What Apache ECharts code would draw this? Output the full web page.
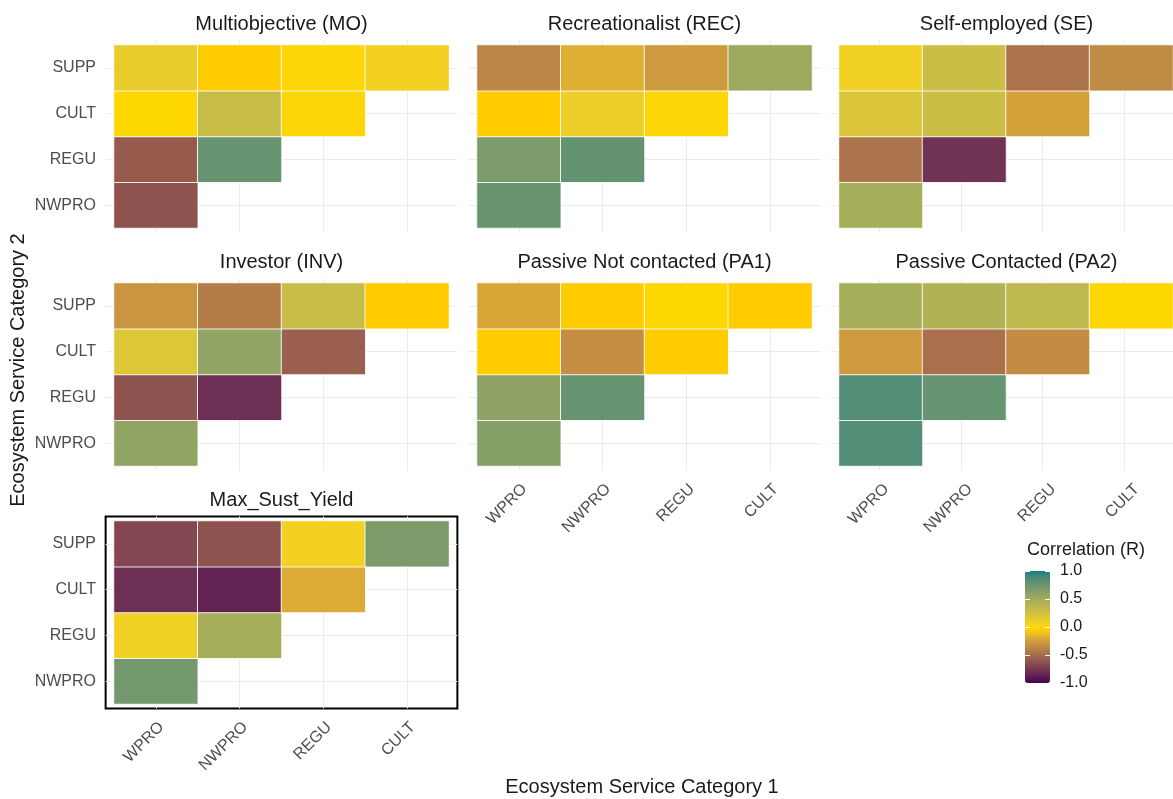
<!DOCTYPE html>
<html>
<head>
<meta charset="utf-8">
<title>Ecosystem service correlations</title>
<script src="https://cdn.jsdelivr.net/npm/echarts@6/dist/echarts.min.js"></script>
<style>
  html, body { margin: 0; padding: 0; background: #fff; }
  #chart { width: 1173px; height: 799px; }
</style>
</head>
<body>
<div id="chart"></div>
<script>
// categories
const cat1 = ['WPRO', 'NWPRO', 'REGU', 'CULT'];
const cat2 = ['NWPRO', 'REGU', 'CULT', 'SUPP']; // bottom to top
const panelTitles = [
  'Multiobjective (MO)', 'Recreationalist (REC)', 'Self-employed (SE)',
  'Investor (INV)', 'Passive Not contacted (PA1)', 'Passive Contacted (PA2)',
  'Max_Sust_Yield'
];
const legendTicks = [-1, -0.5, 0, 0.5, 1];

// correlation values, one row per cat2 entry (NWPRO, REGU, CULT, SUPP), columns follow cat1
const mo  = [[-0.62], [-0.58, 0.77], [0.0, 0.3, 0.01], [0.12, -0.06, 0.01, 0.07]];
const rec = [[0.76], [0.68, 0.78], [-0.06, 0.1, 0.01], [-0.38, -0.18, -0.28, 0.52]];
const se  = [[0.47], [-0.46, -0.78], [0.2, 0.28, -0.24], [0.08, 0.28, -0.47, -0.35]];
const inv = [[0.58], [-0.62, -0.8], [0.18, 0.58, -0.56], [-0.3, -0.42, 0.3, -0.06]];
const pa1 = [[0.64], [0.6, 0.77], [-0.06, -0.33, -0.06], [-0.22, -0.06, 0.0, -0.06]];
const pa2 = [[0.84], [0.84, 0.77], [-0.28, -0.48, -0.34], [0.47, 0.42, 0.35, 0.0]];
const msy = [[0.72], [0.08, 0.47], [-0.8, -0.86, -0.2], [-0.68, -0.62, 0.07, 0.68]];
const panels = [mo, rec, se, inv, pa1, pa2, msy];

// diverging colour scale (Lab interpolation), with a warmer gold just below zero
const lowCol = '#440154', nearZeroCol = '#FFCC00', midCol = '#FFD700', highCol = '#008080';

function hexToLab(hex) {
  const c = [1, 3, 5].map(i => parseInt(hex.slice(i, i + 2), 16) / 255)
    .map(v => v <= 0.04045 ? v / 12.92 : Math.pow((v + 0.055) / 1.055, 2.4));
  const f = t => t > 0.008856 ? Math.cbrt(t) : 7.787 * t + 16 / 116;
  const x = (0.4124 * c[0] + 0.3576 * c[1] + 0.1805 * c[2]) / 0.95047;
  const y = 0.2126 * c[0] + 0.7152 * c[1] + 0.0722 * c[2];
  const z = (0.0193 * c[0] + 0.1192 * c[1] + 0.9505 * c[2]) / 1.08883;
  return [116 * f(y) - 16, 500 * (f(x) - f(y)), 200 * (f(y) - f(z))];
}
function labToHex(lab) {
  const fy = (lab[0] + 16) / 116, fx = fy + lab[1] / 500, fz = fy - lab[2] / 200;
  const inv = t => t > 0.206893 ? t * t * t : (t - 16 / 116) / 7.787;
  const x = inv(fx) * 0.95047, y = inv(fy), z = inv(fz) * 1.08883;
  return '#' + [
    3.2406 * x - 1.5372 * y - 0.4986 * z,
    -0.9689 * x + 1.8758 * y + 0.0415 * z,
    0.0557 * x - 0.2040 * y + 1.0570 * z
  ].map(v => v <= 0.0031308 ? 12.92 * v : 1.055 * Math.pow(v, 1 / 2.4) - 0.055)
   .map(v => Math.round(Math.min(1, Math.max(0, v)) * 255).toString(16).padStart(2, '0'))
   .join('');
}
const mix = (a, b, t) => a.map((p, j) => p + (b[j] - p) * t);
const labLow = hexToLab(lowCol), labMid = hexToLab(midCol), labHigh = hexToLab(highCol);
const stops = [-1, -0.15, -0.06, 0, 1];
const labStops = [labLow, mix(labLow, labMid, 0.85), hexToLab(nearZeroCol), labMid, labHigh];
const ramp = [];
for (let i = 0; i <= 100; i++) {
  const v = -1 + i * 0.02;
  let k = 0;
  while (k < stops.length - 2 && v > stops[k + 1]) k++;
  const t = (v - stops[k]) / (stops[k + 1] - stops[k]);
  ramp.push(labToHex(mix(labStops[k], labStops[k + 1], t)));
}

// facet layout (tile area of each panel)
const tileLeft = [114, 477, 839];
const tileTop = [45, 283, 521];
const tileW = 335, tileH = 183;
const slots = [[0, 0], [0, 1], [0, 2], [1, 0], [1, 1], [1, 2], [2, 0]];
const font = '"Liberation Sans", Arial, sans-serif';

const grid = [], xAxis = [], yAxis = [], series = [], graphic = [];

slots.forEach(([r, c], i) => {
  const ux = tileW / 4, uy = tileH / 4;
  const boxed = i === 6;
  // panel background with grid lines at category centres
  grid.push({
    left: tileLeft[c] - 0.1 * ux, top: tileTop[r] - 0.1 * uy,
    width: 4.2 * ux, height: 4.2 * uy,
    show: boxed, borderColor: '#000', borderWidth: 2
  });
  const bgAxis = {
    type: 'value', min: 0.4, max: 4.6, gridIndex: 2 * i,
    axisLine: { show: false }, axisLabel: { show: false },
    axisTick: { show: false, customValues: [1, 2, 3, 4] },
    splitLine: { show: true, lineStyle: { color: '#ebebeb', width: 1 } }
  };
  xAxis.push(bgAxis);
  yAxis.push(Object.assign({}, bgAxis));
  // tile area
  grid.push({ left: tileLeft[c], top: tileTop[r], width: tileW, height: tileH });
  xAxis.push({
    type: 'category', data: cat1, gridIndex: 2 * i + 1,
    axisLine: { show: false }, axisTick: { show: false }, splitLine: { show: false },
    axisLabel: {
      show: i >= 4, rotate: 45, interval: 0, margin: 15, verticalAlign: 'top',
      fontSize: 16, color: '#4d4d4d', fontFamily: font
    }
  });
  yAxis.push({
    type: 'category', data: cat2, gridIndex: 2 * i + 1,
    axisLine: { show: false }, axisTick: { show: false }, splitLine: { show: false },
    axisLabel: {
      show: c === 0, interval: 0, margin: 18,
      fontSize: 16, color: '#4d4d4d', fontFamily: font
    }
  });
  const data = [];
  panels[i].forEach((row, yi) => row.forEach((v, xi) => data.push([xi, yi, v])));
  series.push({
    type: 'heatmap', name: panelTitles[i],
    xAxisIndex: 2 * i + 1, yAxisIndex: 2 * i + 1,
    data: data, silent: true,
    itemStyle: { borderColor: 'rgba(255,255,255,0.85)', borderWidth: 1 },
    emphasis: { disabled: true }
  });
  graphic.push({
    type: 'text', x: tileLeft[c] + tileW / 2, y: tileTop[r] - 21,
    style: {
      text: panelTitles[i], fill: '#1a1a1a', fontSize: 20, fontFamily: font,
      align: 'center', verticalAlign: 'middle'
    }
  });
});

// colour bar axis (labels + white ticks)
const barLeft = 1025, barTop = 571, barW = 25, barH = 112;
grid.push({ left: barLeft, top: barTop, width: barW, height: barH });
xAxis.push({ type: 'value', gridIndex: 14, show: false });
const barAxis = (pos, labels) => ({
  type: 'value', gridIndex: 14, position: pos, min: -1, max: 1, interval: 0.5, z: 10,
  axisLine: { show: false }, splitLine: { show: false },
  axisTick: { show: true, inside: true, length: 5, lineStyle: { color: '#fff', width: 1 } },
  axisLabel: {
    show: labels, margin: 10, fontSize: 16, color: '#1a1a1a', fontFamily: font,
    formatter: v => legendTicks.includes(v) ? v.toFixed(1) : ''
  }
});
yAxis.push(barAxis('left', false), barAxis('right', true));

graphic.push(
  {
    type: 'text', x: 1027, y: 550,
    style: { text: 'Correlation (R)', fill: '#1a1a1a', fontSize: 18, fontFamily: font, align: 'left', verticalAlign: 'middle' }
  },
  {
    type: 'text', x: 642, y: 787,
    style: { text: 'Ecosystem Service Category 1', fill: '#1a1a1a', fontSize: 20, fontFamily: font, align: 'center', verticalAlign: 'middle' }
  },
  {
    type: 'text', x: 18, y: 370, rotation: Math.PI / 2,
    style: { text: 'Ecosystem Service Category 2', fill: '#1a1a1a', fontSize: 20, fontFamily: font, align: 'center', verticalAlign: 'middle' }
  }
);

const chart = echarts.init(document.getElementById('chart'));
chart.setOption({
  animation: false,
  backgroundColor: '#fff',
  grid: grid,
  xAxis: xAxis,
  yAxis: yAxis,
  visualMap: {
    type: 'continuous', min: -1, max: 1, seriesIndex: [0, 1, 2, 3, 4, 5, 6],
    calculable: false, hoverLink: false, left: barLeft, top: barTop, itemWidth: barW, itemHeight: barH,
    padding: 0, inRange: { color: ramp }
  },
  series: series,
  graphic: graphic
});
</script>
</body>
</html>
